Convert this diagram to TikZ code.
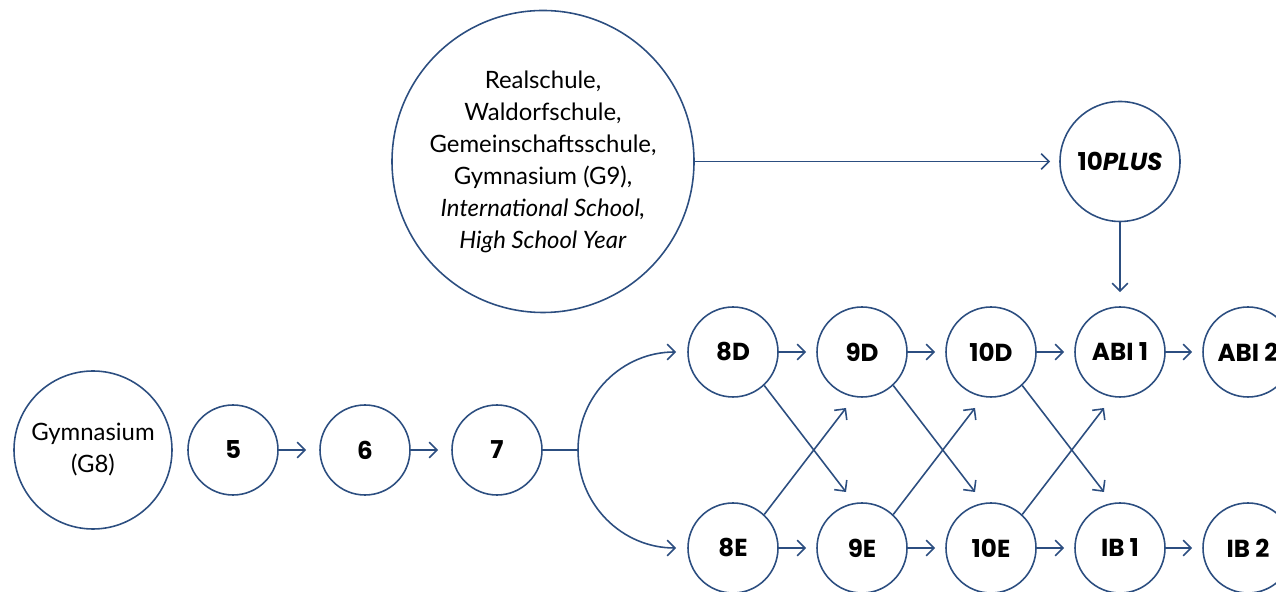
\documentclass[tikz,border=0pt]{standalone}
\usepackage{fontspec}
\setmainfont{Lato}
\newfontfamily\labelfont{Poppins}
\usetikzlibrary{arrows.meta}
\definecolor{linie}{HTML}{2C4E80}

\begin{document}
\begin{tikzpicture}[>={Straight Barb[length=4.5pt,width=9pt]},line width=0.9pt,
  stufe/.style={circle,draw=linie,minimum size=1.8cm,inner sep=0pt,
    font=\labelfont\bfseries\fontsize{14}{16}\selectfont},
  schule/.style={circle,draw=linie,align=center,inner sep=0pt,
    font=\fontsize{13.6}{18.2}\selectfont},
  pfeil/.style={->,draw=linie,shorten >=0.2cm},
  kreuz/.style={->,draw=linie}]

  \useasboundingbox (0,0) rectangle (25.52,11.84);

  % 左侧:Gymnasium (G8) 与 5--7
  \node[schule,minimum size=3.16cm] (g8) at (1.86,2.84) {Gymnasium\\(G8)};
  \node[stufe] (k5) at (4.66,2.84) {5};
  \node[stufe] (k6) at (7.30,2.84) {6};
  \node[stufe] (k7) at (9.94,2.84) {7};
  \draw[pfeil,shorten >=0.26cm] (k5) -- (k6);
  \draw[pfeil,shorten >=0.26cm] (k6) -- (k7);

  % 上方:其他学校 -> 10PLUS
  \node[schule,minimum size=6.04cm] (andere) at (10.86,8.61)
    {Realschule,\\Waldorfschule,\\Gemeinschaftsschule,\\Gymnasium (G9),\\
     \textit{International School,}\\\textit{High School Year}};
  \node[stufe,minimum size=2.4cm] (plus) at (22.40,8.61) {10\textit{PLUS}};
  \draw[pfeil,shorten >=0.18cm] (andere) -- (plus);

  % D 行
  \node[stufe] (d8) at (14.66,4.80) {8D};
  \node[stufe] (d9) at (17.24,4.80) {9D};
  \node[stufe] (d10) at (19.82,4.80) {10D};
  \node[stufe] (abi1) at (22.40,4.80) {ABI 1};
  \node[stufe] (abi2) at (24.96,4.80) {ABI 2};

  % E 行
  \node[stufe] (e8) at (14.66,0.88) {8E};
  \node[stufe] (e9) at (17.24,0.88) {9E};
  \node[stufe] (e10) at (19.82,0.88) {10E};
  \node[stufe] (ib1) at (22.40,0.88) {IB 1};
  \node[stufe] (ib2) at (24.96,0.88) {IB 2};

  % 10PLUS -> ABI 1
  \draw[pfeil,shorten >=0.28cm] (plus) -- (abi1);

  % 7 之后分叉
  \coordinate (gabel) at (11.56,2.84);
  \draw[linie] (k7) -- (gabel);
  \draw[kreuz] (gabel) to[out=90,in=180] ([xshift=-0.22cm]d8.west);
  \draw[kreuz] (gabel) to[out=-90,in=180] ([xshift=-0.22cm]e8.west);

  % 横向箭头
  \draw[pfeil] (d8) -- (d9);
  \draw[pfeil] (d9) -- (d10);
  \draw[pfeil] (d10) -- (abi1);
  \draw[pfeil] (abi1) -- (abi2);
  \draw[pfeil] (e8) -- (e9);
  \draw[pfeil] (e9) -- (e10);
  \draw[pfeil] (e10) -- (ib1);
  \draw[pfeil] (ib1) -- (ib2);

  % 交叉箭头
  \draw[kreuz] (d8.-47) -- ([shift={(-0.32,1.12)}]e9.center);
  \draw[kreuz] (e8.47) -- ([shift={(-0.32,-1.12)}]d9.center);
  \draw[kreuz] (d9.-47) -- ([shift={(-0.32,1.12)}]e10.center);
  \draw[kreuz] (e9.47) -- ([shift={(-0.32,-1.12)}]d10.center);
  \draw[kreuz] (d10.-47) -- ([shift={(-0.32,1.12)}]ib1.center);
  \draw[kreuz] (e10.47) -- ([shift={(-0.32,-1.12)}]abi1.center);

\end{tikzpicture}
\end{document}
